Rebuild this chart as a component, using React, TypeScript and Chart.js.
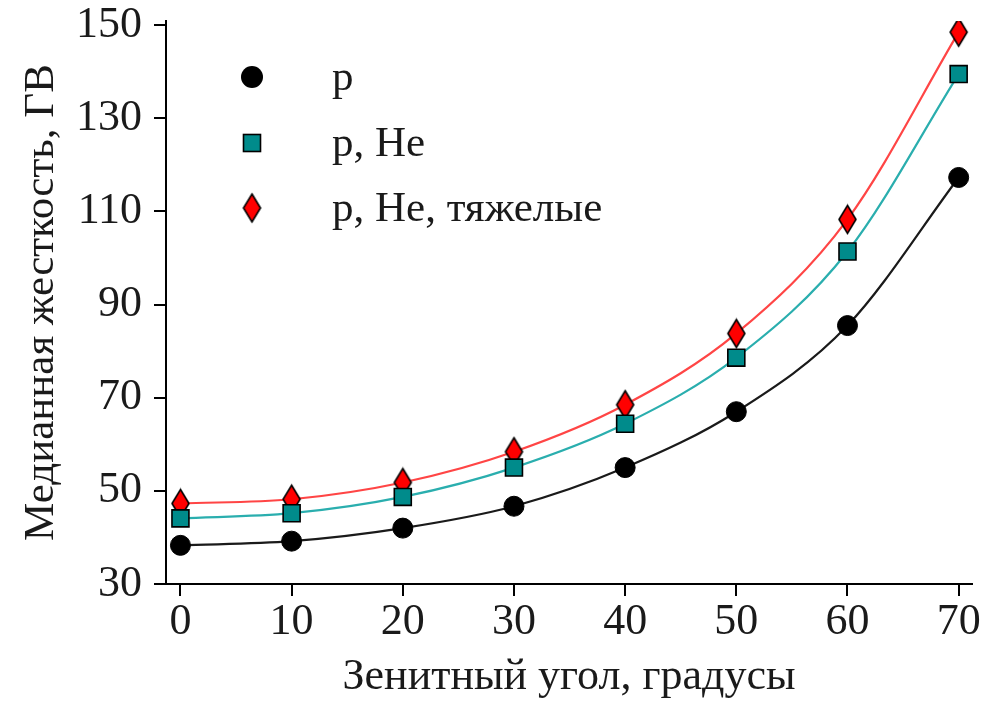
import React, { useEffect, useRef } from "react";
import { Chart, registerables } from "chart.js";

Chart.register(...registerables);

const zenithAngles = [0, 10, 20, 30, 40, 50, 60, 70];
const protonValues = [38.3, 39.2, 42.0, 46.7, 55.0, 67.0, 85.5, 117.3];
const protonHeliumValues = [44.1, 45.2, 48.7, 55.0, 64.4, 78.6, 101.4, 139.5];
const allNucleiValues = [47.3, 48.2, 51.8, 58.4, 68.5, 83.8, 108.3, 148.5];

const seriesLabels = ["p", "p, He", "p, He, тяжелые"];
const xTicks = [0, 10, 20, 30, 40, 50, 60, 70];
const yTicks = [30, 50, 70, 90, 110, 130, 150];
const xTitle = "Зенитный угол, градусы";
const yTitle = "Медианная жесткость, ГВ";

const FONT = '"Liberation Serif", "Times New Roman", serif';
const TEXT = "#1a1a1a";

function makeDiamond(w: number, h: number): HTMLCanvasElement {
  const c = document.createElement("canvas");
  c.width = w + 4;
  c.height = h + 4;
  const g = c.getContext("2d")!;
  const cx = c.width / 2;
  const cy = c.height / 2;
  g.beginPath();
  g.moveTo(cx, cy - h / 2);
  g.lineTo(cx + w / 2, cy);
  g.lineTo(cx, cy + h / 2);
  g.lineTo(cx - w / 2, cy);
  g.closePath();
  g.fillStyle = "#ff0000";
  g.fill();
  g.lineWidth = 1.6;
  g.strokeStyle = "#000";
  g.stroke();
  return c;
}

export default function App() {
  const ref = useRef<HTMLCanvasElement | null>(null);

  useEffect(() => {
    document.body.style.margin = "0";
    const canvas = ref.current!;
    const diamond = makeDiamond(17, 28);
    const pts = (vals: number[]) => zenithAngles.map((x, i) => ({ x, y: vals[i] }));

    const legendPlugin = {
      id: "insideLegend",
      afterDraw(chart: any) {
        const ctx = chart.ctx as CanvasRenderingContext2D;
        ctx.save();
        const mx = 252;
        const tx = 332;
        const ys = [77, 143, 208];
        ctx.beginPath();
        ctx.arc(mx, ys[0], 11, 0, Math.PI * 2);
        ctx.fillStyle = "#000";
        ctx.fill();
        ctx.fillStyle = "#008b8b";
        ctx.strokeStyle = "#000";
        ctx.lineWidth = 1.6;
        ctx.fillRect(mx - 8.5, ys[1] - 8.5, 17, 17);
        ctx.strokeRect(mx - 8.5, ys[1] - 8.5, 17, 17);
        ctx.drawImage(diamond, mx - diamond.width / 2, ys[2] - diamond.height / 2);
        ctx.fillStyle = TEXT;
        ctx.font = `43px ${FONT}`;
        ctx.textBaseline = "middle";
        ctx.textAlign = "left";
        seriesLabels.forEach((t, i) => ctx.fillText(t, tx, ys[i] + 2));
        ctx.restore();
      },
    };

    const chart = new Chart(canvas, {
      type: "scatter",
      data: {
        datasets: [
          {
            label: seriesLabels[0] + " fit",
            data: pts(protonValues),
            showLine: true,
            cubicInterpolationMode: "monotone",
            borderColor: "#1a1a1a",
            borderWidth: 2.2,
            pointRadius: 0,
            order: 3,
          },
          {
            label: seriesLabels[1] + " fit",
            data: pts(protonHeliumValues),
            showLine: true,
            cubicInterpolationMode: "monotone",
            borderColor: "#2aaeae",
            borderWidth: 2.2,
            pointRadius: 0,
            order: 3,
          },
          {
            label: seriesLabels[2] + " fit",
            data: pts(allNucleiValues),
            showLine: true,
            cubicInterpolationMode: "monotone",
            borderColor: "#ff4545",
            borderWidth: 2.2,
            pointRadius: 0,
            order: 3,
          },
          {
            label: seriesLabels[0],
            data: pts(protonValues),
            pointStyle: "circle",
            pointRadius: 10,
            backgroundColor: "#000",
            borderColor: "#000",
            borderWidth: 1,
            order: 1,
          },
          {
            label: seriesLabels[1],
            data: pts(protonHeliumValues),
            pointStyle: "rect",
            pointRadius: 12,
            backgroundColor: "#008b8b",
            borderColor: "#000",
            borderWidth: 1.6,
            order: 1,
          },
          {
            label: seriesLabels[2],
            data: pts(allNucleiValues),
            pointStyle: diamond as any,
            pointRadius: 14,
            backgroundColor: "#ff0000",
            borderColor: "#000",
            order: 1,
          },
        ],
      },
      options: {
        responsive: false,
        animation: false,
        events: [],
        layout: { autoPadding: false, padding: { top: 21, right: 10, left: 0, bottom: 0 } },
        plugins: {
          legend: { display: false },
          tooltip: { enabled: false },
        },
        scales: {
          x: {
            type: "linear",
            min: -1.3,
            max: 71.2,
            afterBuildTicks: (s: any) => {
              s.ticks = xTicks.map((v) => ({ value: v }));
            },
            afterFit: (s: any) => {
              s.height = 124;
              s.paddingLeft = 0;
              s.paddingRight = 0;
            },
            grid: {
              drawOnChartArea: false,
              drawTicks: true,
              tickLength: 12,
              color: "#000",
              lineWidth: 2,
            },
            border: { display: true, color: "#000", width: 2 },
            ticks: {
              color: TEXT,
              font: { family: FONT, size: 44 },
              padding: 0,
              maxRotation: 0,
              autoSkip: false,
            },
            title: {
              display: true,
              text: xTitle,
              color: TEXT,
              font: { family: FONT, size: 44 },
              padding: { top: 0, bottom: 4 },
            },
          },
          y: {
            type: "linear",
            min: 30,
            max: 150.9,
            afterBuildTicks: (s: any) => {
              s.ticks = yTicks.map((v) => ({ value: v }));
            },
            afterFit: (s: any) => {
              s.width = 166;
              s.paddingTop = 0;
              s.paddingBottom = 0;
            },
            grid: {
              drawOnChartArea: false,
              drawTicks: true,
              tickLength: 12,
              color: "#000",
              lineWidth: 2,
            },
            border: { display: true, color: "#000", width: 2 },
            ticks: {
              color: TEXT,
              font: { family: FONT, size: 44 },
              padding: 12,
              autoSkip: false,
            },
            title: {
              display: true,
              text: yTitle,
              color: TEXT,
              font: { family: FONT, size: 43 },
              padding: { top: 16, bottom: 0 },
            },
          },
        },
      },
      plugins: [legendPlugin],
    });

    return () => chart.destroy();
  }, []);

  return (
    <div style={{ width: 982, height: 708, position: "relative", background: "#fff" }}>
      <canvas ref={ref} width={982} height={708} style={{ display: "block" }} />
    </div>
  );
}
